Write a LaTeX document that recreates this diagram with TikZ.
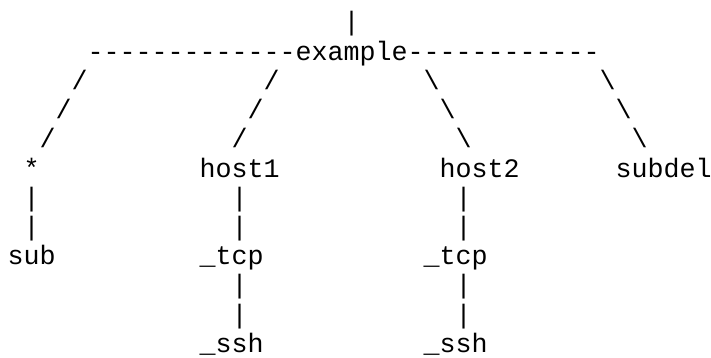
\documentclass[tikz,border=0pt]{standalone}
\usepackage{fontspec}
\setmonofont{Liberation Mono}
\tikzset{ch/.style={anchor=base west, inner sep=0pt, outer sep=0pt, text=black,
  font=\ttfamily\fontsize{26.67}{29.2}\selectfont}}
\newcommand{\glyph}[4]{\node[ch] (#1) at ({7.5+16*#2},{-31-29.2*#3}) {#4};}
\begin{document}
\begin{tikzpicture}[x=1pt,y=1pt]
\fill[white] (0,0) rectangle (711,-358);
\useasboundingbox (0,0) rectangle (711,-358);
% row 0
\glyph{top}{21}{0}{|}
% row 1
\glyph{dl}{5}{1}{-------------}
\glyph{example}{18}{1}{example}
\glyph{dr}{25}{1}{------------}
% rows 2-4
\glyph{a1}{4}{2}{/}  \glyph{b1}{16}{2}{/}  \glyph{c1}{26}{2}{\textbackslash}  \glyph{d1}{37}{2}{\textbackslash}
\glyph{a2}{3}{3}{/}  \glyph{b2}{15}{3}{/}  \glyph{c2}{27}{3}{\textbackslash}  \glyph{d2}{38}{3}{\textbackslash}
\glyph{a3}{2}{4}{/}  \glyph{b3}{14}{4}{/}  \glyph{c3}{28}{4}{\textbackslash}  \glyph{d3}{39}{4}{\textbackslash}
% row 5
\glyph{star}{1}{5}{*}
\glyph{host1}{12}{5}{host1}
\glyph{host2}{27}{5}{host2}
\glyph{subdel}{38}{5}{subdel}
% rows 6-7
\glyph{e1}{1}{6}{|}  \glyph{f1}{14}{6}{|}  \glyph{g1}{28}{6}{|}
\glyph{e2}{1}{7}{|}  \glyph{f2}{14}{7}{|}  \glyph{g2}{28}{7}{|}
% row 8
\glyph{sub}{0}{8}{sub}
\glyph{tcp1}{12}{8}{\_tcp}
\glyph{tcp2}{26}{8}{\_tcp}
% rows 9-10
\glyph{h1}{14}{9}{|}  \glyph{i1}{28}{9}{|}
\glyph{h2}{14}{10}{|} \glyph{i2}{28}{10}{|}
% row 11
\glyph{ssh1}{12}{11}{\_ssh}
\glyph{ssh2}{26}{11}{\_ssh}
\end{tikzpicture}
\end{document}
